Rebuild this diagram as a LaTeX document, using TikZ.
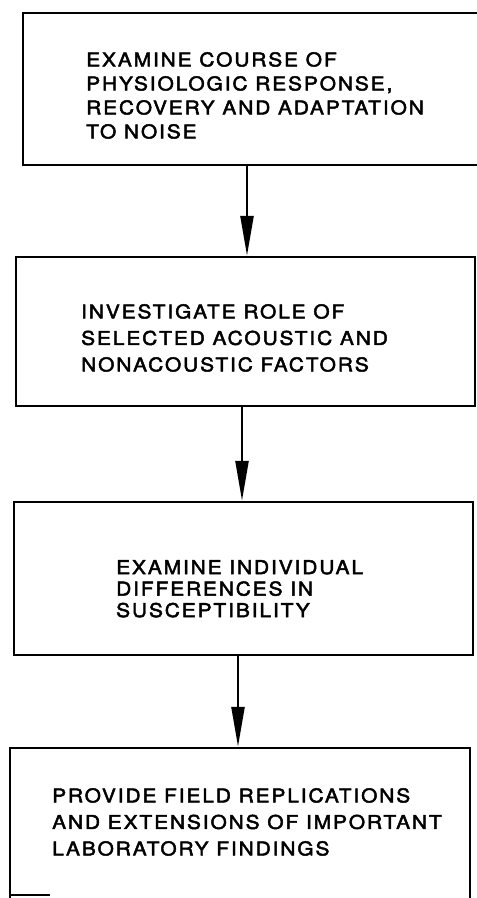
\documentclass[tikz,border=0pt]{standalone}
\usepackage{fontspec}
\setmainfont{TeX Gyre Heros}[FakeStretch=1.1, LetterSpace=10, FakeBold=2.5]
\usetikzlibrary{arrows.meta}
\tikzset{
  box/.style={draw, line width=2.5pt, rectangle, inner sep=0pt},
  lbl/.style={anchor=north west, inner sep=0pt, align=left, font=\fontsize{19}{24}\selectfont},
  arr/.style={line width=2.5pt, -{Triangle[length=40pt,width=13pt]}}
}
\begin{document}
\begin{tikzpicture}[x=1pt,y=-1pt]
\useasboundingbox (0,0) rectangle (477,898);
\clip (0,0) rectangle (477,898);
\node[box, minimum width=456pt, minimum height=152pt] (b1) at (251,89) {};
\node[box, minimum width=459pt, minimum height=149pt] (b2) at (245.5,331.5) {};
\node[box, minimum width=459pt, minimum height=153pt] (b3) at (243.5,578.5) {};
\node[box, minimum width=460pt, minimum height=157pt] (b4) at (240,826.5) {};
\node[lbl] (t1) at (86,52) {EXAMINE COURSE OF\\PHYSIOLOGIC RESPONSE,\\RECOVERY AND ADAPTATION\\TO NOISE};
\node[lbl, font=\fontsize{19}{26.5}\selectfont] (t2) at (81,304) {INVESTIGATE ROLE OF\\SELECTED ACOUSTIC AND\\NONACOUSTIC FACTORS};
\node[lbl, font=\fontsize{19}{21.5}\selectfont] (t3) at (116,560) {EXAMINE INDIVIDUAL\\DIFFERENCES IN\\SUSCEPTIBILITY};
\node[lbl, font=\fontsize{19}{26.5}\selectfont] (t4) at (52,788) {PROVIDE FIELD REPLICATIONS\\AND EXTENSIONS OF IMPORTANT\\LABORATORY FINDINGS};
\draw[arr] (b1.south -| 247,0) -- (b2.north -| 247,0);
\draw[arr] (b2.south -| 242,0) -- (b3.north -| 242,0);
\draw[arr] (b3.south -| 238,0) -- (b4.north -| 238,0);
\coordinate (e) at (50,895);
\draw[line width=1.2pt] (b4.west |- e) -- (e);
\end{tikzpicture}
\end{document}
